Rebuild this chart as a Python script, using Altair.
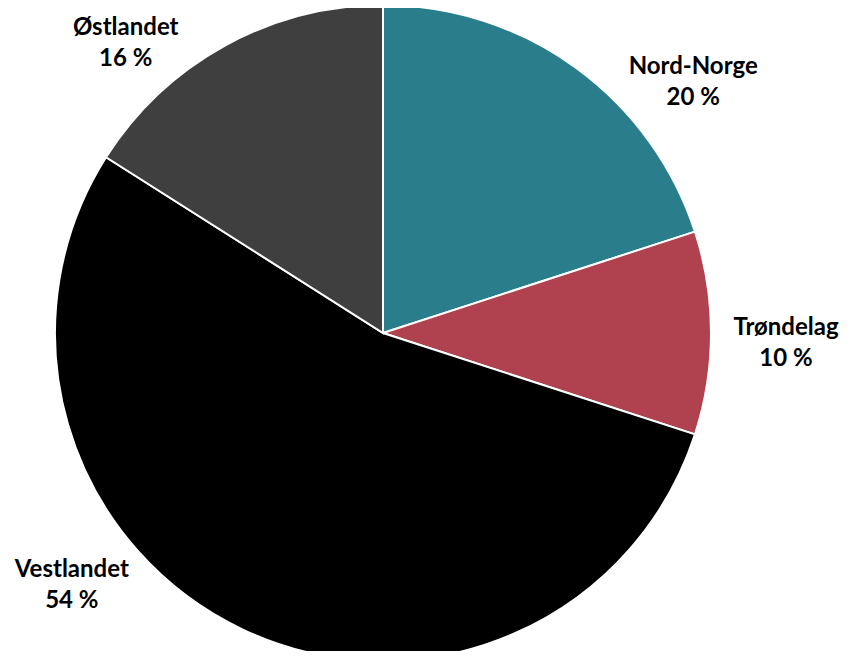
import altair as alt
import pandas as pd

regions = ["Nord-Norge", "Trøndelag", "Vestlandet", "Østlandet"]
shares = [20, 10, 54, 16]
colors = ["#2A7E8C", "#B0414F", "#000000", "#3F3F3F"]
# label nudges (dx, dy) away from the slice mid-angle, as Excel placed them
nudges = {
    "Nord-Norge": (78, 54),
    "Trøndelag": (8, -5),
    "Vestlandet": (-143, -120),
    "Østlandet": (-67, 41),
}

data = pd.DataFrame({"region": regions, "share": shares, "order": list(range(len(regions)))})
base = alt.Chart(data)

pie = base.mark_arc(outerRadius=328, stroke="white", strokeWidth=2).encode(
    theta=alt.Theta("share:Q", stack=True, scale=alt.Scale(domain=[0, 100])),
    color=alt.Color("region:N", scale=alt.Scale(domain=regions, range=colors), legend=None),
    order=alt.Order("order:Q"),
)


def label(region, dx, dy):
    return (
        base.transform_window(cum="sum(share)", sort=[alt.SortField("order")], frame=[None, 0])
        .transform_calculate(mid="datum.cum - datum.share / 2",
                             label="datum.region + '|' + datum.share + ' %'")
        .transform_filter(alt.datum.region == region)
        .mark_text(radius=395, dx=dx, dy=dy, font="Lato", fontWeight="bold", fontSize=24,
                   lineBreak="|", lineHeight=31, align="center", baseline="middle", color="black")
        .encode(theta=alt.Theta("mid:Q", scale=alt.Scale(domain=[0, 100])), text="label:N")
    )


layers = [pie] + [label(r, *nudges[r]) for r in regions]

chart = alt.layer(*layers).properties(
    width=750, height=636,
    autosize=alt.AutoSizeParams(type="none"),
    padding={"left": 0, "top": 7, "right": 84, "bottom": 0},
    background="white",
).configure_view(stroke=None)

chart.save("out.html", embed_options={"renderer": "svg", "actions": False})
